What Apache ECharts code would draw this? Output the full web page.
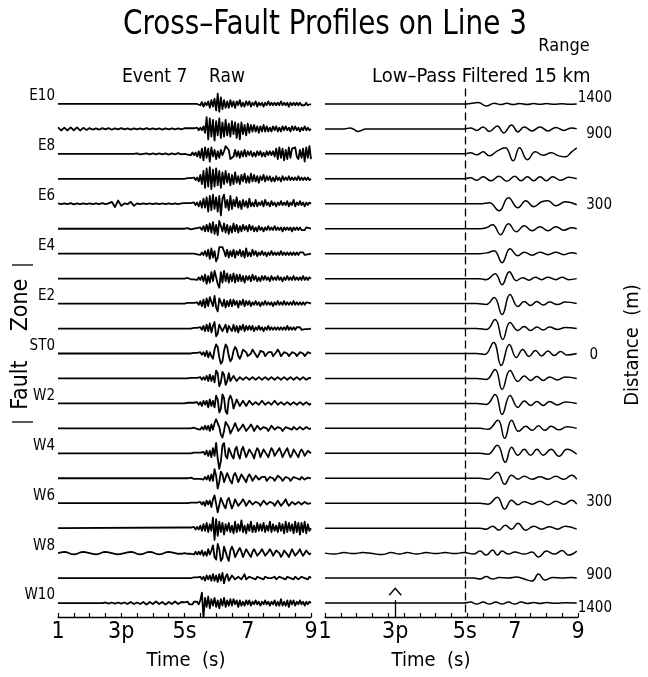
<!DOCTYPE html>
<html><head><meta charset="utf-8">
<script src="https://cdn.jsdelivr.net/npm/echarts@6/dist/echarts.min.js"></script>
<style>html,body{margin:0;padding:0;background:#fff}#c{width:648px;height:677px}</style>
</head><body><div id="c"></div>
<script>
// ---------- data ----------
const stations = ['E10','E9','E8','E7','E6','E5','E4','E3','E2','E1','ST0','W1','W2','W3','W4','W5','W6','W7','W8','W9','W10'];
const stationLabelIdx = [0,2,4,6,8,10,12,14,16,18,20];
const distLabels = ['1400','900','300','0','300','900','1400'];
const distLabelPos = [-0.25,1.2,4.05,10.05,15.95,18.9,20.2];
const timeTicks = [1,3,5,7,9];
const timeTickLabels = ['1','3p','5s','7','9'];
const pPick = 3.22, sPick = 5.42;
const rightTickPos = [1,3.22,5.42,7,9];

// raw traces: samples every 0.05 s from 5.00 s to 9.00 s (amplitude, px, up positive)
const RAW_T0 = 5.0, RAW_DT = 0.05;
const rawE10=[0,0,0,0.5,0,-0.5,0,0.5,0,0, -1,1.5,-2,1,-1,2,-3,3,-2,4, -5,8,-6,5,-4,3,-3,2,-3,3, -2,2,-3,2,-1,3,-2,1,-2,2, -1,2,-2,1,-1,2,-2,1,-1,1, -2,1,-1,2,-1,1,-1,1,-1,1, -1,2,-1,1,-1,1,-2,1,-1,1, -1,1,-1,1,-1,0.5,-1,1,-1,0.5,0];
const rawE9=[0.5,-0.5,0.5,-0.5,0.5,-0.5,0.5,-1,1,-1, 1,-1,2,-3,9,-8,8,-6,7,-9, 6,-5,8,-7,5,-6,7,-5,4,-6, 6,-4,5,-7,4,-8,5,-4,3,-5, 4,-3,3,-2,3,-2,2,-3,2,-2, 3,-2,2,-2,1,-2,2,-1,2,-2, 1,-2,2,-1,2,-1,1,-2,2,-1, 2,-1,1,-2,1,-1,2,-1,1,-1,0];
const rawE8=[0,0.5,-0.5,0.5,-1,1,-1,1,-2,2, -3,4,-5,5,-3,4,-6,5,-2,3, -4,2,-3,3,-1,2,6,6,3,-4, -5,-2,3,-2,2,-3,2,-2,3,-2, 2,-1,2,-2,1,-2,2,-1,2,-2, 1,-2,2,-1,2,-1,2,-2,4,-4, 5,-3,4,-5,3,-4,5,-3,4,5, 5,-2,-4,3,-3,4,-6,5,-3,6,-4];
const rawE7=[0,0,0.5,-0.5,0.5,-0.5,1,-1,1,-2, 3,-4,6,-7,8,-6,9,-8,7,-6, 8,-5,6,-7,5,-4,6,-3,4,-5, 3,-4,5,-3,2,-4,3,-2,4,-3, 2,-3,4,-2,3,-2,2,-3,2,-1, 3,-2,2,-1,2,-2,1,-2,2,-1, 1,-2,2,-1,1,-1,2,-1,1,-1, 1,-1,2,-1,1,-1,1,-1,1,-1,0];
const rawE6=[0.5,-0.5,0.5,-0.5,0.5,-1,1,-1,1,-2, 2,-3,4,-3,5,-6,6,-5,7,-4, 5,-6,6,-9,4,7,-3,3,-5,6, -4,3,-2,5,-3,2,-4,3,-2,2, -3,4,-2,1,-2,3,-2,1,-1,2, -2,3,-1,1,-2,2,-1,1,-2,1, -1,2,-1,1,-1,2,-2,1,-1,3, -2,1,-1,2,-1,1,-2,1,-1,1,0];
const rawE5=[0,0,0.5,0,-0.5,0.5,0,-0.5,0.5,-1, 1,-1,2,-2,3,-2,4,-3,5,-4, 3,-5,6,5,-2,4,-3,3,-4,2, -3,4,-2,3,-3,2,-2,3,-1,2, -2,3,-1,2,-2,1,-2,2,-1,1, -2,1,-1,2,-1,1,-1,2,-1,1, -1,1,-2,1,-1,1,-1,1,-2,1, -1,1,-1,1,-1,0.5,-1,1,-0.5,0.5,0];
const rawE4=[0,0,0,0.5,0,-0.5,0,0.5,-0.5,0.5, -1,1,-1,2,-2,3,-4,4,-3,2, -6,-3,5,6,5,2,-2,3,-3,2, -2,3,-3,2,-1,3,-2,2,-3,4, -2,1,-2,3,-1,2,-2,1,-1,2, -1,1,-2,1,-1,2,-1,1,-1,1, -1,2,-1,1,-1,1,-1,1,-1,1, -1,1,-1,1,-0.5,1,-1,0.5,-0.5,0.5,0];
const rawE3=[0,0,0.5,0,-0.5,0.5,-0.5,0.5,-1,1, -1,2,-2,3,-4,2,-3,5,-2,6, 7,-4,-7,5,-3,6,-2,4,-3,3, -2,4,-3,3,-2,3,-2,2,-3,2, -1,2,-2,3,-1,2,-2,1,-2,2, -1,2,-1,1,-2,2,-1,1,-1,2, -1,1,-2,1,-1,2,-1,1,-1,2, -1,1,-1,1,-1,2,-1,1,-1,1,0];
const rawE2=[0,0,0.5,-0.5,0.5,-0.5,0.5,-1,1,-1, 2,-2,3,-3,4,-2,5,6,-2,6, -3,-6,4,5,-2,3,-3,2,-2,3, -2,3,-1,2,-3,2,-1,3,-2,2, -1,2,-2,1,-1,2,-1,1,-2,1, -1,2,-1,1,-1,1,-2,1,-1,2, -1,1,-1,2,-1,1,-1,1,-1,2, -1,1,-1,1,-1,1,-1,1,-0.5,0.5,0];
const rawE1=[0,0,0,0.5,0,-0.5,0.5,-0.5,0.5,-1, 1,-1,2,-2,3,-2,4,-3,2,5, -6,-4,3,4,-2,-1,3,-3,2,3, -2,3,-2,2,-3,2,-1,3,-2,2, -1,2,-1,2,-2,1,-1,2,-1,1, -2,1,-1,2,-1,1,-1,1,-1,1, -1,1,-1,1,-1,2,-1,1,-1,1, -1,1,-0.5,1,-1,0.5,-0.5,1,-0.5,0.5,0];
const rawST0=[0,0,0,0.5,0,-0.5,0.5,-0.5,0.5,-0.5, 1,-1,1,-2,2,-3,1,-2,-4,3, 7,5,-3,-8,-6,2,7,5,-2,-6, -4,2,5,3,-2,-4,-1,3,4,1, -2,-3,0,3,2,-1,-3,-1,2,3, 1,-2,-2,1,2,1,-2,-2,1,3, 1,-2,-2,1,2,0,-2,-1,1,2, 0,-2,-1,1,2,0,-2,-1,1,1,0];
const rawW1=[0,0,0,0,0.5,-0.5,0.5,-0.5,0.5,-0.5, 1,-1,1,-1,2,-2,3,-2,2,-3, 6,4,-6,-3,5,3,-5,-2,4,-2, -3,2,3,-2,-2,1,2,-1,-2,1, 2,-1,-1,1,2,-1,-1,1,1,-1, -1,1,2,-1,-1,1,1,-1,-1,1, 1,-1,-1,1,2,-1,-1,1,1,-1, -1,1,1,-1,-1,1,1,-1,-1,0.5,0];
const rawW2=[0,0,0.5,-0.5,0.5,-0.5,0.5,-1,1,-1, 1,-2,2,-1,2,-3,3,-2,2,-3, 6,3,-7,-4,7,4,-6,-8,3,6, 3,-4,-3,3,4,-2,-3,2,3,-2, -2,2,3,-1,-2,1,2,-1,-2,2, 2,-1,-2,1,2,-1,-1,2,1,-1, -2,1,2,-1,-1,1,2,-1,-1,1, 1,-1,-1,1,2,-1,-1,1,1,-1,0];
const rawW3=[0,0,0,0.5,0,-0.5,0.5,0,-0.5,0.5, -1,1,-1,2,-1,2,-2,3,-1,4, 7,6,1,-5,-7,-2,5,6,1,-4, -5,1,4,3,-2,-3,1,3,2,-2, -2,1,3,1,-2,-1,2,2,-1,-2, 1,2,0,-2,-1,2,1,-1,-1,1, 2,0,-2,-1,1,2,0,-1,-1,1, 1,-1,-1,1,1,-1,-1,1,0.5,-0.5,0];
const rawW4=[0,0,0,0.5,0,-0.5,0.5,-0.5,0.5,-0.5, 0.5,-1,1,-1,2,-2,2,-3,4,-2, 8,-4,-12,-6,6,8,-2,-4,4,5, -2,-4,3,5,-1,-4,2,5,1,-3, -3,3,4,-1,-4,1,4,2,-3,-2, 3,4,-1,-3,1,4,2,-2,-3,2, 4,1,-3,-2,2,4,0,-3,-1,3, 3,-1,-3,1,3,1,-2,-2,2,2,0];
const rawW5=[0,0,0,0,0.5,0,-0.5,0.5,-0.5,0.5, -0.5,1,-1,1,-1,2,-2,3,-2,7, 2,-8,-3,5,3,-3,-4,4,3,-2, -4,2,4,1,-3,-2,3,3,-1,-3, 1,3,1,-2,-2,2,3,-1,-2,1, 2,1,-2,-1,1,2,0,-2,-1,2, 3,0,-2,-1,1,2,0,-2,-1,1, 2,0,-1,-1,1,1,-1,-1,0.5,0.5,0];
const rawW6=[0,0,0,0,0.5,-0.5,0.5,-0.5,0.5,-0.5, 1,-1,1,-2,2,-1,2,-3,3,6, 5,-7,-6,4,5,-2,-4,2,4,0, -4,-1,3,3,-2,-3,1,3,1,-2, -2,2,3,-1,-2,1,2,0,-2,-1, 2,2,-1,-2,1,2,0,-2,0,2, 1,-2,-1,1,3,0,-2,-1,1,1, -1,-1,1,1,-1,-1,1,1,-0.5,0.5,0];
const rawW7=[0.5,-0.5,0.5,-1,0.5,-0.5,1,-1,1,-1, 2,-2,3,-2,4,-3,3,-2,8,-9, 7,-6,5,-3,4,-5,3,-2,4,-3, 2,-4,5,-3,3,-2,6,-3,2,-4, 3,-2,5,-3,2,-3,4,-2,3,-2, 4,-3,2,-2,5,-3,3,-2,2,-3, 4,-2,3,-4,5,-3,4,-2,3,-4, 5,-3,4,-5,4,-3,5,-4,3,-2,0];
const rawW8=[0,0.5,-0.5,0.5,-0.5,0.5,-1,1,-1,1, -1,2,-2,1,-2,3,-1,2,6,-3, -5,7,3,-6,-4,5,6,-3,-6,2, 5,2,-3,-4,2,4,1,-3,-2,3, 4,-1,-3,1,3,2,-2,-3,1,3, 2,-2,-3,1,3,1,-2,-2,2,3, 0,-3,-1,2,3,-1,-3,0,3,2, -2,-2,1,3,0,-2,-1,2,2,-1,0];
const rawW9=[0,0,0,0.5,0,-0.5,0.5,-0.5,0.5,-0.5, 1,-1,1,-2,2,-1,2,-2,3,-2, 2,-3,3,-2,4,-4,1,3,-2,-3, 2,3,-1,-2,1,2,-1,-1,3,-1, -2,1,2,0,-1,-1,1,1,0,-1, -1,1,1,0,-1,0,1,1,-1,-1, 1,1,0,-1,-1,1,1,0,-1,-1, 1,1,-1,-1,1,1,0,-1,-1,1,0];
const rawW10=[0.5,-0.5,1,-1,0.5,-1,1,-0.5,1,-1, 2,8,-11,4,-3,5,-4,3,-2,4, -3,2,-4,3,-2,4,-3,2,-2,3, -2,3,-1,2,-3,2,-2,1,-2,2, -1,2,-2,1,-1,2,-1,1,-2,1, -1,2,-1,1,-2,1,-1,2,-2,1, -2,3,-2,1,-2,2,-3,2,-1,2, -2,1,-1,2,-1,1,-2,1,-1,1,0];

// pre-event noise: samples every 0.1 s from 1.0 s to 4.9 s
const PRE_T0 = 1.0, PRE_DT = 0.1;
const preE9=[1.2,-1.2,1,-1.2,1.2,-1,1.2,-1.2,0.8,-0.8, 0.6,-0.6,0.4,-0.6,0.6,-0.4,0.6,-0.6,0.4,-0.4, 0.6,-0.4,0.4,-0.6,0.4,-0.4,0.4,-0.4,0.6,-0.4, 0.4,-0.4,0.4,-0.6,0.4,-0.4,0.4,-0.4,0.4,-0.4];
const preE8=[0,0,0,0,0,0,0,0,0,0, 0,0,0,0,0,0,0,0,0,0, 0,0,0,0,0,0.4,-0.4,0,0.4,-0.4, 0.4,-0.4,0.4,-0.4,0.4,-0.6,0.4,-0.4,0.6,-0.4];
const preE6=[0.3,-0.3,0.3,-0.3,0.5,-0.5,0.3,-0.3,0.3,-0.3, 0.3,-0.3,0.3,-0.3,0.5,-0.3,0.3,1.5,-2.5,2.5, -1.5,0.3,-0.3,1.5,-1.5,0.3,-0.3,0.3,-0.3,0.3, -0.3,0.3,-0.3,0.3,-0.3,0.3,-0.3,0.3,-0.3,0.3];
const preW8=[0,0.5,1,0.5,-0.5,-1,-0.5,0.5,1,0.5, 0,-0.5,-1,-0.5,0.5,1,0.5,0,-0.5,-1, -0.5,0,0.5,1,0.5,-0.5,-1,-0.5,0.5,1, 0.5,-0.5,-1,-0.5,0.5,1,0.5,0,-0.5,-0.5];
const preW10=[0,0,0,0,0,0,0,0,0,0, 0,0,0,0,0,0.4,-0.4,0.4,-0.4,0.4, -0.4,0.4,-0.8,0.8,-0.8,0.4,-0.8,0.8,-1.2,0.8, -0.8,1.2,-0.8,0.8,-1.2,0.8,-0.8,1.2,-0.8,0.8];

// low-pass traces: [time s, amplitude px] turning points
const lpE10=[[1,0],[5.4,0],[5.6,0.5],[5.85,1.5],[6.1,-2],[6.35,0.8],[6.55,-0.6],[6.75,0.6],[6.95,-0.6],[7.15,0.5],[7.4,-0.5],[7.6,0.5],[7.8,-0.4],[8.0,0.4],[8.25,-0.3],[8.5,0.3],[8.7,-0.3],[8.96,0]];
const lpE9=[[1,0],[1.6,0],[1.8,1],[2.05,-2.5],[2.3,0],[5.4,0],[5.6,1],[5.8,-1.5],[6.0,2],[6.2,-2.5],[6.45,3],[6.65,-4],[6.9,4],[7.1,-3],[7.3,2],[7.55,-2],[7.8,2],[8.05,-2],[8.3,1.5],[8.55,-1.5],[8.8,1],[8.96,0]];
const lpE8=[[1,0],[5.4,0],[5.6,1],[5.8,-1],[6.0,2],[6.2,-2],[6.45,3],[6.7,6],[6.95,-7],[7.15,6],[7.4,-6],[7.65,2],[7.9,-1.5],[8.15,1],[8.4,-2],[8.6,-3],[8.8,2],[8.96,6]];
const lpE7=[[1,0],[5.4,0],[5.6,1],[5.8,-1.5],[6.0,2],[6.25,-2],[6.5,2.5],[6.75,-2.5],[7.0,2.5],[7.2,-2],[7.4,2],[7.6,-2],[7.8,2],[8.0,-2],[8.2,2],[8.45,-1.5],[8.7,1.5],[8.96,0]];
const lpE6=[[1,0],[5.9,0],[6.2,1],[6.5,-7],[6.8,6],[7.1,-4],[7.35,3],[7.6,-3],[7.85,2],[8.05,3],[8.3,-2],[8.6,2],[8.96,-1]];
const lpE5=[[1,0],[5.9,0],[6.1,1],[6.3,4],[6.55,-6],[6.8,5],[7.05,-3],[7.3,3],[7.55,-2],[7.8,2],[8.05,-2],[8.3,2],[8.55,-1.5],[8.8,1],[8.96,0]];
const lpE4=[[1,0],[5.9,0],[6.15,1],[6.35,3],[6.6,-9],[6.85,5],[7.1,-2],[7.3,1.5],[7.55,-1.5],[7.8,1.5],[8.05,-1],[8.3,1.5],[8.55,-1],[8.8,1],[8.96,0]];
const lpE3=[[1,0],[5.9,0],[6.1,-1],[6.38,5],[6.6,-6],[6.83,7],[7.05,-2],[7.25,1],[7.45,-1.5],[7.65,1.5],[7.85,-1],[8.05,1.5],[8.3,-1],[8.5,1.5],[8.7,-1],[8.96,0]];
const lpE2=[[1,0],[5.8,0],[6.1,-1],[6.35,6],[6.6,-11],[6.85,9],[7.1,-3],[7.3,2],[7.5,-2],[7.7,2],[7.9,-1.5],[8.1,1.5],[8.35,-1],[8.6,1.5],[8.96,0]];
const lpE1=[[1,0],[5.8,0],[6.1,-1],[6.38,9],[6.62,-11],[6.85,6],[7.1,-2],[7.3,2],[7.5,-2],[7.7,1.5],[7.9,-1.5],[8.1,1.5],[8.35,-1],[8.6,1],[8.96,0]];
const lpST0=[[1,0],[5.8,0],[6.05,-1],[6.33,11],[6.57,-12],[6.83,9],[7.05,-4],[7.25,4],[7.45,-3],[7.65,3],[7.85,-2.5],[8.05,2.5],[8.25,-2],[8.45,2],[8.65,-1.5],[8.96,0]];
const lpW1=[[1,0],[5.8,0],[6.1,-1],[6.38,9],[6.6,-11],[6.85,8],[7.1,-3],[7.3,2.5],[7.5,-2],[7.7,2],[7.9,-2],[8.1,1.5],[8.35,-1.5],[8.6,1.5],[8.96,0]];
const lpW2=[[1,0],[5.8,0],[6.1,-1],[6.38,9],[6.6,-11],[6.85,8],[7.1,-4],[7.3,2.5],[7.5,-2],[7.7,2],[7.9,-2],[8.1,2],[8.35,-1.5],[8.6,1.5],[8.96,0]];
const lpW3=[[1,0],[5.9,0],[6.15,-1],[6.47,8],[6.68,-10],[6.9,8],[7.12,-3],[7.35,2],[7.55,-2],[7.75,2.5],[7.95,-2],[8.15,2],[8.4,-1.5],[8.65,1.5],[8.96,0]];
const lpW4=[[1,0],[5.9,0],[6.15,-1],[6.45,8],[6.7,-9],[6.9,6],[7.1,-2],[7.3,4],[7.5,-2],[7.7,4],[7.9,-2],[8.15,4],[8.4,-3],[8.65,4],[8.96,-1]];
const lpW5=[[1,0],[5.9,0],[6.15,-1],[6.45,6],[6.68,-6],[6.9,3],[7.1,-1],[7.3,2],[7.55,-1],[7.8,1.5],[8.05,-1],[8.3,2],[8.55,-1],[8.8,3],[8.96,-1]];
const lpW6=[[1,0],[5.9,0],[6.15,-1],[6.45,6],[6.68,-6],[6.9,3],[7.1,-1.5],[7.3,1.5],[7.55,-1],[7.8,2],[8.05,-1.5],[8.3,2],[8.55,-1],[8.8,3],[8.96,-1]];
const lpW7=[[1,0],[5.9,0],[6.1,-1],[6.3,2],[6.5,-2],[6.7,3],[6.9,-1],[7.1,5],[7.35,-2],[7.6,2],[7.85,-1],[8.1,1.5],[8.35,-1],[8.6,2],[8.96,-1]];
const lpW8=[[1,0],[1.3,-1],[1.6,0.5],[1.9,-0.5],[2.2,0.5],[2.5,-0.5],[2.8,-1.5],[3.1,0.5],[3.35,-1],[3.6,0.5],[3.9,-1],[4.2,0.5],[4.5,-0.5],[4.8,0.5],[5.1,-0.5],[5.4,0.5],[5.7,-1],[5.9,2],[6.1,-2],[6.3,3],[6.45,-2],[6.6,2],[6.8,-1],[7.0,1],[7.3,-1],[7.55,1],[7.75,-4],[8.0,2],[8.25,-1],[8.5,2.5],[8.7,-2],[8.96,2]];
const lpW9=[[1,0],[5.7,0],[5.9,-1],[6.1,1.5],[6.3,-1],[6.5,0.5],[6.8,0],[7.05,1],[7.3,-1],[7.55,-3],[7.75,4],[7.95,-2],[8.2,0.5],[8.5,0],[8.8,0.5],[8.96,0]];
const lpW10=[[1,0],[5.4,0],[5.6,1],[5.8,-1],[6.0,1],[6.2,-1],[6.4,1],[6.6,-1],[6.8,1],[7.0,-1],[7.2,1],[7.4,-0.5],[7.6,0.5],[7.8,-0.5],[8.0,0.5],[8.3,-0.3],[8.6,0.3],[8.96,0]];

// ---------- build ----------
const rawTraces=[rawE10,rawE9,rawE8,rawE7,rawE6,rawE5,rawE4,rawE3,rawE2,rawE1,rawST0,rawW1,rawW2,rawW3,rawW4,rawW5,rawW6,rawW7,rawW8,rawW9,rawW10];
const preTraces=[null,preE9,preE8,null,preE6,null,null,null,null,null,null,null,null,null,null,null,null,null,preW8,null,preW10];
const lpTraces=[lpE10,lpE9,lpE8,lpE7,lpE6,lpE5,lpE4,lpE3,lpE2,lpE1,lpST0,lpW1,lpW2,lpW3,lpW4,lpW5,lpW6,lpW7,lpW8,lpW9,lpW10];

const SPACING_PX = 24.95;   // trace spacing in pixels
const RAW_GAIN = 1.3;       // display gain of raw traces
const FONT = "'DejaVu Sans Condensed','Liberation Sans Narrow',sans-serif";
const Y_MIN = -0.9, Y_MAX = 20.56;

const series=[];
rawTraces.forEach((tr,i)=>{
  const pts=[];
  const pre=preTraces[i];
  if(pre){ pre.forEach((a,k)=>pts.push([PRE_T0+k*PRE_DT, i - a*RAW_GAIN/SPACING_PX])); }
  else pts.push([1,i]);
  tr.forEach((a,k)=>pts.push([RAW_T0+k*RAW_DT, i - a*RAW_GAIN/SPACING_PX]));
  series.push({type:'line',xAxisIndex:0,yAxisIndex:0,data:pts,showSymbol:false,silent:true,
    lineStyle:{color:'#000',width:1.8,join:'round'},z:2});
});
lpTraces.forEach((tr,i)=>{
  series.push({type:'line',xAxisIndex:1,yAxisIndex:1,data:tr.map(p=>[p[0], i - p[1]/SPACING_PX]),
    showSymbol:false,silent:true,smooth:0.45,lineStyle:{color:'#000',width:1.5},z:2});
});
// S-pick dashed line and P-pick marker on right panel
series.push({type:'line',xAxisIndex:1,yAxisIndex:1,data:[],silent:true,
  markLine:{silent:true,symbol:'none',label:{show:false},
    lineStyle:{color:'#000',width:1.3,type:[8,4]},
    data:[[{coord:[sPick,-0.62]},{coord:[sPick,Y_MAX]}]]}});
series.push({type:'line',xAxisIndex:1,yAxisIndex:1,data:[],silent:true,
  markLine:{silent:true,symbol:'none',label:{show:false},
    lineStyle:{color:'#000',width:1.3,type:'solid'},
    data:[[{coord:[pPick,19.88]},{coord:[pPick,Y_MAX]}]]},
  markPoint:{silent:true,symbol:'path://M0,10 L10,0 L20,10',symbolSize:[12,7],
    itemStyle:{color:'none',borderColor:'#000',borderWidth:1.3},label:{show:false},
    data:[{coord:[pPick,19.55]}]}});

function xAxisCfg(grid,labelPos){
  return {type:'value',gridIndex:grid,min:1,max:9,
    axisLine:{show:true,onZero:false,lineStyle:{color:'#000',width:1.3}},
    axisTick:{show:true,inside:true,length:4,lineStyle:{color:'#000',width:1.2},
      customValues:[1,1.5,2,2.5,3,3.5,4,4.5,5,5.5,6,6.5,7,7.5,8,8.5,9]},
    axisLabel:{show:true,customValues:labelPos,margin:4,color:'#000',fontSize:23,fontFamily:FONT,
      formatter:(v)=>{const k=labelPos.findIndex(p=>Math.abs(p-v)<1e-6);return k>=0?timeTickLabels[k]:'';}},
    splitLine:{show:false}};
}
const option={
  animation:false,
  backgroundColor:'#fff',
  grid:[{left:58,width:253,top:81.5,height:535.5},{left:325,width:253,top:81.5,height:535.5}],
  xAxis:[xAxisCfg(0,timeTicks),xAxisCfg(1,rightTickPos)],
  yAxis:[
    {type:'value',gridIndex:0,min:Y_MIN,max:Y_MAX,inverse:true,
      axisLine:{show:false},axisTick:{show:false},splitLine:{show:false},
      axisLabel:{show:true,customValues:stationLabelIdx,margin:3,verticalAlign:'bottom',color:'#000',
        fontSize:15,fontFamily:FONT,formatter:(v)=>stations[Math.round(v)]}},
    {type:'value',gridIndex:1,min:Y_MIN,max:Y_MAX,inverse:true,position:'right',
      axisLine:{show:false},axisTick:{show:false},splitLine:{show:false},
      axisLabel:{show:true,customValues:distLabelPos,margin:34,align:'right',color:'#000',
        fontSize:15,fontFamily:FONT,
        formatter:(v)=>{const k=distLabelPos.findIndex(p=>Math.abs(p-v)<1e-6);const t=k>=0?distLabels[k]:'';return t==='0'?'{z|0}':t;},
        rich:{z:{fontSize:15,fontFamily:FONT,color:'#000',padding:[0,14,0,0]}}}}
  ],
  graphic:[
    {type:'text',x:325,y:25,scaleY:1.08,style:{text:'Cross\u2013Fault Profiles on Line 3',font:'31px '+FONT,fill:'#000',align:'center',verticalAlign:'middle'}},
    {type:'text',x:564,y:46,style:{text:'Range',font:'18px '+FONT,fill:'#000',align:'center',verticalAlign:'middle'}},
    {type:'text',x:122,y:77,style:{text:'Event 7    Raw',font:'19px '+FONT,fill:'#000',verticalAlign:'middle'}},
    {type:'text',x:372,y:77,style:{text:'Low\u2013Pass Filtered 15 km',font:'20px '+FONT,fill:'#000',verticalAlign:'middle'}},
    {type:'text',x:186,y:661,style:{text:'Time  (s)',font:'20px '+FONT,fill:'#000',align:'center',verticalAlign:'middle'}},
    {type:'text',x:431,y:661,style:{text:'Time  (s)',font:'20px '+FONT,fill:'#000',align:'center',verticalAlign:'middle'}},
    {type:'text',x:21,y:385,rotation:Math.PI/2,style:{text:'Fault',font:'23px '+FONT,fill:'#000',align:'center',verticalAlign:'middle'}},
    {type:'text',x:21,y:305,rotation:Math.PI/2,style:{text:'Zone',font:'23px '+FONT,fill:'#000',align:'center',verticalAlign:'middle'}},
    {type:'line',shape:{x1:12,y1:265,x2:33,y2:265},style:{stroke:'#000',lineWidth:1.3}},
    {type:'line',shape:{x1:12,y1:422,x2:33,y2:422},style:{stroke:'#000',lineWidth:1.3}},
    {type:'text',x:633,y:345,rotation:Math.PI/2,style:{text:'Distance  (m)',font:'20px '+FONT,fill:'#000',align:'center',verticalAlign:'middle'}}
  ],
  series
};
const chart=echarts.init(document.getElementById('c'),null,{renderer:'canvas'});
chart.setOption(option);
</script></body></html>
